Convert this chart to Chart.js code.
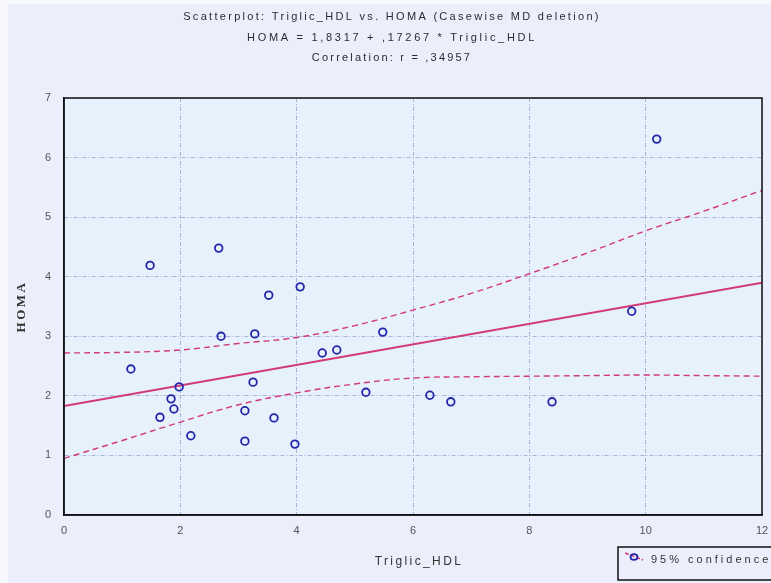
<!DOCTYPE html>
<html>
<head>
<meta charset="utf-8">
<script src="https://cdn.jsdelivr.net/npm/chart.js@4.4.1/dist/chart.umd.min.js"></script>
<style>
html,body{margin:0;padding:0;background:#eceefb;}
#wrap{width:771px;height:583px;position:relative;}
canvas{display:block;}
</style>
</head>
<body>
<div id="wrap"><canvas id="c" width="771" height="583"></canvas></div>
<script>
// ---- data ----
const titleLines = [
  "Scatterplot: Triglic_HDL vs. HOMA (Casewise MD deletion)",
  "HOMA = 1,8317 + ,17267 * Triglic_HDL",
  "Correlation: r = ,34957"
];
const xLabel = "Triglic_HDL";
const yLabel = "HOMA";
const legendLabel = "95% confidence";

const triglicHDL = [1.15, 1.48, 1.65, 1.84, 1.89, 1.98, 2.18, 2.66, 2.70, 3.11, 3.11, 3.25, 3.28,
                    3.52, 3.61, 3.97, 4.06, 4.44, 4.69, 5.19, 5.48, 6.29, 6.65, 8.39, 9.76, 10.19];
const homa       = [2.45, 4.19, 1.64, 1.95, 1.78, 2.15, 1.33, 4.48, 3.00, 1.75, 1.24, 2.23, 3.04,
                    3.69, 1.63, 1.19, 3.83, 2.72, 2.77, 2.06, 3.07, 2.01, 1.90, 1.90, 3.42, 6.31];

const fitX = [0, 12];
const fitY = [1.83, 3.90];

const ciX     = [0, 1, 2, 3, 4, 5, 6, 7, 8, 9, 10, 11, 12];
const ciUpper = [2.72, 2.73, 2.77, 2.88, 2.98, 3.18, 3.44, 3.72, 4.05, 4.40, 4.77, 5.10, 5.45];
const ciLower = [0.95, 1.25, 1.56, 1.85, 2.05, 2.20, 2.30, 2.32, 2.33, 2.34, 2.35, 2.34, 2.33];

const xTicks = [0, 2, 4, 6, 8, 10, 12];
const yTicks = [0, 1, 2, 3, 4, 5, 6, 7];

// ---- styles ----
const PINK = '#d23a78';
const BLUE = '#2326a8';
const GRID = '#aab4da';
const SANS = "'Liberation Sans', Arial, sans-serif";
const SERIF = "'Liberation Serif', 'Times New Roman', serif";

const pts = triglicHDL.map((x, i) => ({x, y: homa[i]}));
const fitPts = fitX.map((x, i) => ({x, y: fitY[i]}));
const upPts = ciX.map((x, i) => ({x, y: ciUpper[i]}));
const loPts = ciX.map((x, i) => ({x, y: ciLower[i]}));

const titleSpacing = ['2.3px', '2.7px', '2.2px'];
const titleY = [17, 38, 58];

const decoPlugin = {
  id: 'deco',
  beforeDraw(chart) {
    const {ctx, chartArea: a} = chart;
    ctx.save();
    ctx.fillStyle = '#eceefb';
    ctx.fillRect(0, 0, chart.width, chart.height);
    ctx.fillStyle = '#f7f8fe';
    ctx.fillRect(0, 0, chart.width, 4);
    ctx.fillRect(0, 0, 8, chart.height);
    ctx.fillStyle = '#e6f1fc';
    ctx.fillRect(a.left, a.top, a.right - a.left, a.bottom - a.top);
    ctx.restore();
  },
  afterDraw(chart) {
    const {ctx, chartArea: a} = chart;
    ctx.save();
    ctx.strokeStyle = '#111';
    ctx.lineWidth = 1.5;
    ctx.strokeRect(a.left, a.top, a.right - a.left, a.bottom - a.top);

    // titles
    ctx.fillStyle = '#2a2a3a';
    ctx.textBaseline = 'middle';
    ctx.textAlign = 'center';
    ctx.font = "11px " + SANS;
    titleLines.forEach((t, i) => {
      ctx.letterSpacing = titleSpacing[i];
      ctx.fillText(t, 392, titleY[i]);
    });

    // x axis title
    ctx.fillStyle = '#333';
    ctx.font = "12px " + SANS;
    ctx.letterSpacing = '2.4px';
    ctx.fillText(xLabel, (a.left + a.right) / 2 + 6, 562);

    // y axis title
    ctx.save();
    ctx.translate(22, (a.top + a.bottom) / 2);
    ctx.rotate(-Math.PI / 2);
    ctx.font = "bold 13px " + SERIF;
    ctx.letterSpacing = '2.5px';
    ctx.fillStyle = '#333';
    ctx.fillText(yLabel, 0, 0);
    ctx.restore();

    // legend box
    ctx.letterSpacing = '0px';
    const lx = 618, ly = 547, lw = 160, lh = 33;
    ctx.strokeStyle = '#111';
    ctx.lineWidth = 1.5;
    ctx.strokeRect(lx, ly, lw, lh);
    ctx.strokeStyle = PINK;
    ctx.lineWidth = 1.5;
    ctx.setLineDash([4, 2]);
    ctx.beginPath();
    ctx.moveTo(625, 553);
    ctx.lineTo(643, 560);
    ctx.stroke();
    ctx.setLineDash([]);
    ctx.strokeStyle = BLUE;
    ctx.lineWidth = 1.8;
    ctx.beginPath();
    ctx.ellipse(634, 557, 3.5, 2.8, 0, 0, Math.PI * 2);
    ctx.stroke();
    ctx.fillStyle = '#333';
    ctx.font = "11px " + SANS;
    ctx.letterSpacing = '3px';
    ctx.textAlign = 'left';
    ctx.fillText(legendLabel, 651, 560);
    ctx.restore();
  }
};

new Chart(document.getElementById('c'), {
  type: 'scatter',
  data: {
    datasets: [
      {
        label: 'HOMA',
        data: pts,
        showLine: false,
        pointStyle: 'circle',
        pointRadius: 3.8,
        pointBorderWidth: 1.8,
        pointBorderColor: BLUE,
        pointBackgroundColor: 'rgba(0,0,0,0)',
        order: 0
      },
      {
        label: 'fit',
        type: 'line',
        data: fitPts,
        borderColor: PINK,
        borderWidth: 2,
        pointRadius: 0,
        fill: false,
        order: 1
      },
      {
        label: legendLabel,
        type: 'line',
        data: upPts,
        borderColor: PINK,
        borderWidth: 1.4,
        borderDash: [6, 4],
        pointRadius: 0,
        tension: 0.4,
        fill: false,
        order: 2
      },
      {
        label: legendLabel + ' (lower)',
        type: 'line',
        data: loPts,
        borderColor: PINK,
        borderWidth: 1.4,
        borderDash: [6, 4],
        pointRadius: 0,
        tension: 0.4,
        fill: false,
        order: 2
      }
    ]
  },
  options: {
    responsive: false,
    animation: false,
    devicePixelRatio: 1,
    layout: {padding: {left: 0, right: 9, top: 98, bottom: 0}},
    plugins: {
      legend: {display: false},
      tooltip: {enabled: false},
      title: {display: false}
    },
    scales: {
      x: {
        type: 'linear',
        min: 0, max: 12,
        afterFit(s) { s.height = 68; s.paddingLeft = 0; s.paddingRight = 0; },
        afterBuildTicks(s) { s.ticks = xTicks.map(v => ({value: v})); },
        ticks: {color: '#555', font: {family: SANS, size: 11}, padding: 9},
        grid: {color: GRID, lineWidth: 1, drawTicks: false},
        border: {display: true, color: '#111', width: 1.5, dash: [4, 2, 1, 2]}
      },
      y: {
        type: 'linear',
        min: 0, max: 7,
        afterFit(s) { s.width = 64; s.paddingTop = 0; s.paddingBottom = 0; },
        afterBuildTicks(s) { s.ticks = yTicks.map(v => ({value: v})); },
        ticks: {color: '#555', font: {family: SANS, size: 11}, padding: 13},
        grid: {color: GRID, lineWidth: 1, drawTicks: false},
        border: {display: true, color: '#111', width: 1.5, dash: [4, 2, 1, 2]}
      }
    }
  },
  plugins: [decoPlugin]
});
</script>
</body>
</html>
